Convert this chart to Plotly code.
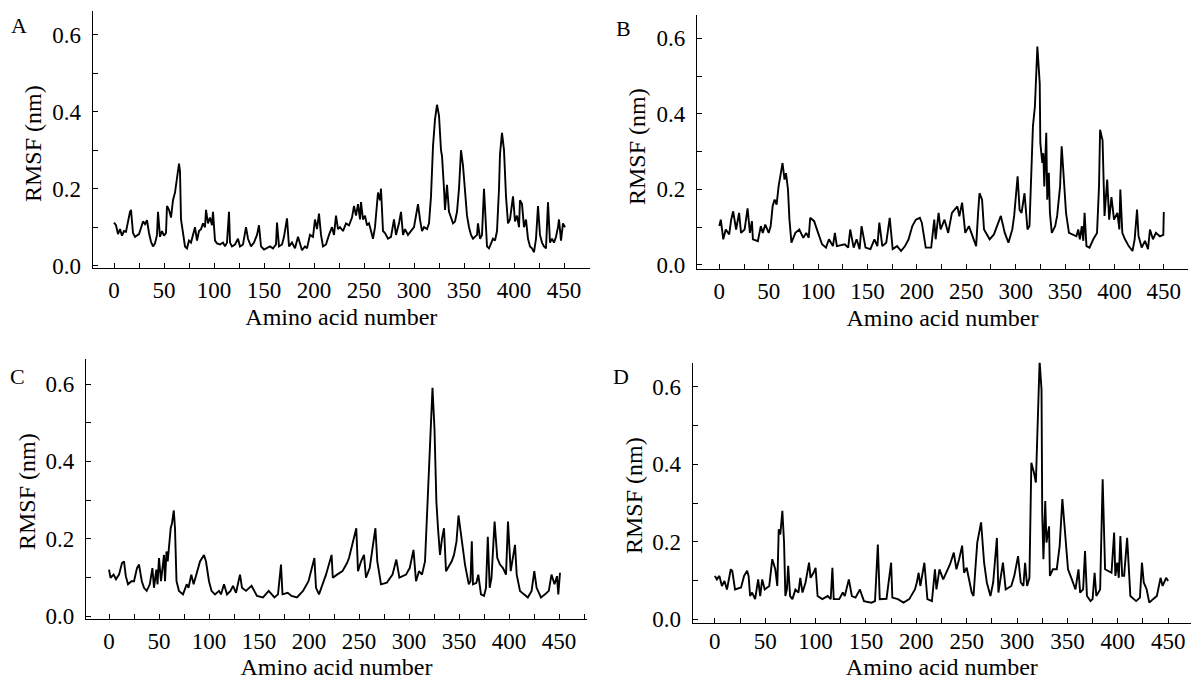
import plotly.graph_objects as go

# ---------------- data (residue number, RMSF nm) ----------------
res_A = [0,2,4,6,8,10,12,14,16,17,19,21,23,25,27,29,31,33,35,37,39,41,43,44,46,48,50,52,53,55,57,59,61,63,65,66,67,69,71,73,75,77,79,81,83,85,87,89,91,92,94,96,98,99,101,103,106,109,111,113,115,116,118,121,124,126,129,132,134,137,140,143,145,147,150,153,156,159,162,163,165,168,170,173,175,178,181,184,186,188,191,193,196,199,201,203,205,207,209,212,215,218,220,222,224,226,229,232,235,238,240,242,244,246,247,249,251,253,255,257,259,261,263,264,266,267,269,271,274,277,280,282,285,287,289,291,294,297,300,302,304,306,308,310,313,315,317,319,321,323,325,327,328,330,331,333,335,337,339,341,343,345,347,349,351,353,355,357,359,361,363,364,366,368,369,370,372,373,375,377,379,381,383,385,386,388,390,392,394,396,398,399,401,403,405,406,408,410,412,414,416,418,420,422,424,426,428,430,432,434,436,438,440,442,444,445,447,449,451]
rmsf_A = [0.112,0.105,0.082,0.095,0.078,0.09,0.088,0.118,0.14,0.145,0.085,0.075,0.078,0.082,0.098,0.115,0.108,0.118,0.085,0.062,0.05,0.058,0.08,0.14,0.075,0.09,0.078,0.085,0.155,0.145,0.125,0.17,0.19,0.225,0.265,0.245,0.12,0.085,0.05,0.045,0.065,0.06,0.08,0.1,0.065,0.09,0.095,0.11,0.1,0.145,0.11,0.125,0.105,0.14,0.065,0.058,0.055,0.06,0.05,0.06,0.14,0.06,0.05,0.055,0.07,0.05,0.055,0.1,0.07,0.05,0.06,0.08,0.105,0.05,0.042,0.045,0.05,0.045,0.055,0.112,0.05,0.055,0.075,0.123,0.05,0.06,0.045,0.075,0.06,0.04,0.05,0.045,0.08,0.075,0.12,0.095,0.135,0.08,0.05,0.055,0.08,0.1,0.08,0.13,0.095,0.1,0.09,0.11,0.105,0.125,0.155,0.13,0.16,0.12,0.165,0.12,0.13,0.105,0.11,0.09,0.07,0.1,0.17,0.19,0.17,0.2,0.09,0.085,0.07,0.075,0.12,0.08,0.11,0.14,0.08,0.095,0.08,0.09,0.1,0.13,0.16,0.12,0.09,0.1,0.095,0.11,0.18,0.31,0.38,0.418,0.39,0.3,0.285,0.2,0.145,0.21,0.14,0.125,0.11,0.115,0.14,0.2,0.3,0.26,0.2,0.13,0.1,0.08,0.07,0.075,0.08,0.11,0.07,0.08,0.15,0.2,0.1,0.05,0.045,0.06,0.07,0.065,0.09,0.2,0.29,0.345,0.3,0.18,0.11,0.12,0.16,0.18,0.115,0.13,0.1,0.17,0.16,0.1,0.12,0.07,0.05,0.045,0.035,0.07,0.155,0.08,0.06,0.05,0.045,0.165,0.06,0.07,0.06,0.075,0.1,0.12,0.065,0.11,0.1]

res_B = [0,1.5,4,6.5,10,12,14,17,20,22,25.6,28.6,31,33,34,39,42,44,46.5,50,52,54,56,58,60,62,64,66,67.5,69.5,71,73,77,81,85,88,90.5,92,96,100,104,108,111,115,117,119,127,130.5,132.5,136,139,142,144,148,153,157,160,162,165,169,172.5,175.5,180,184,188,191.6,195.4,199,203,205,209,214.5,217.6,219,222,224,228,231.7,235.5,241,243,245.8,249,252.7,256.5,260,262,263.4,266,268,273.7,278,285,289,292.7,296.6,298.5,302,304,306,309,312,314,315.6,317.5,319.5,320.6,322,324.4,325,327,328,329,331,332,333.6,334.7,336.6,340,342,345,346.6,348,351,354,358,361.5,363.4,365,367,368.5,369.8,371.7,374.8,378.6,382.4,384.4,385.5,388,390,392.7,394.7,397,399.6,403,405,406,408,410.7,414.5,418.3,420.5,422.9,424.4,427.6,431,434,436,439,442,446,449.5,450]
rmsf_B = [0.103,0.12,0.068,0.094,0.081,0.12,0.142,0.094,0.138,0.085,0.094,0.15,0.085,0.116,0.068,0.063,0.103,0.085,0.107,0.085,0.103,0.156,0.173,0.16,0.208,0.235,0.27,0.226,0.243,0.2,0.12,0.059,0.085,0.094,0.072,0.085,0.072,0.125,0.116,0.085,0.055,0.046,0.068,0.05,0.085,0.05,0.055,0.046,0.094,0.046,0.068,0.042,0.103,0.046,0.042,0.068,0.05,0.112,0.05,0.059,0.125,0.042,0.05,0.037,0.05,0.068,0.103,0.12,0.125,0.112,0.046,0.046,0.12,0.068,0.138,0.094,0.12,0.085,0.138,0.155,0.129,0.165,0.085,0.103,0.072,0.05,0.138,0.19,0.173,0.094,0.068,0.081,0.13,0.085,0.059,0.094,0.13,0.235,0.146,0.138,0.19,0.094,0.103,0.226,0.367,0.42,0.507,0.578,0.48,0.323,0.27,0.296,0.208,0.35,0.173,0.244,0.138,0.085,0.103,0.13,0.208,0.314,0.26,0.138,0.085,0.08,0.076,0.094,0.068,0.103,0.064,0.138,0.05,0.046,0.068,0.085,0.208,0.358,0.33,0.13,0.226,0.12,0.18,0.12,0.138,0.094,0.2,0.085,0.068,0.05,0.037,0.068,0.147,0.077,0.046,0.064,0.042,0.094,0.068,0.085,0.076,0.08,0.14]

res_C = [0,1.5,4.6,7,10,13,15,16.8,19,22.5,25,28,30,32.8,35,37.7,40.8,43.4,45,47.3,48.5,50,52,55,56,57.5,58.7,61.7,63,64.8,66,67.5,70,74,77.7,79.5,82.3,84.6,87.3,91,95,97,100,102.5,106,110,112,115,118,121.5,124,127,131,133,137,142.5,148,154,159.7,165.4,169,172,173.5,178.7,182.5,188,194,197.8,199.5,205.4,207,210,212.5,217,222.6,223.8,228,233.5,238,240,247.3,249,252,255,257,260.7,264.5,266.4,268.3,272,277.8,283.5,287.3,290.4,297,300.7,304.5,307,310,313,316,317.8,319.7,321.6,323.5,325.5,327.4,329,331,333,335,337,339,342.6,345,347.5,349.5,352,356,359.8,361.5,362.8,364,367.4,369.3,372,375,377,378.8,380.7,382.5,385.6,388.3,391,394,397,399,401.7,403.5,406,407.7,411,415,418.8,422.6,425.3,427.6,432,436,439.8,442.5,445.5,448,449.3,451]
rmsf_C = [0.12,0.099,0.107,0.095,0.107,0.137,0.141,0.103,0.082,0.09,0.09,0.124,0.133,0.09,0.073,0.065,0.082,0.124,0.073,0.12,0.082,0.15,0.09,0.158,0.09,0.167,0.141,0.227,0.24,0.273,0.227,0.09,0.065,0.056,0.082,0.073,0.107,0.082,0.107,0.141,0.158,0.141,0.09,0.065,0.056,0.065,0.056,0.082,0.056,0.065,0.078,0.06,0.107,0.073,0.065,0.078,0.052,0.048,0.065,0.048,0.056,0.133,0.056,0.06,0.052,0.048,0.065,0.082,0.09,0.15,0.073,0.056,0.073,0.107,0.158,0.099,0.107,0.116,0.137,0.15,0.227,0.116,0.141,0.158,0.099,0.124,0.193,0.227,0.141,0.082,0.086,0.107,0.146,0.099,0.107,0.124,0.171,0.09,0.116,0.107,0.141,0.26,0.37,0.483,0.59,0.483,0.295,0.227,0.158,0.2,0.227,0.116,0.124,0.141,0.158,0.193,0.26,0.209,0.133,0.082,0.09,0.193,0.082,0.086,0.107,0.056,0.052,0.073,0.205,0.073,0.099,0.244,0.15,0.133,0.124,0.107,0.244,0.116,0.141,0.184,0.107,0.065,0.056,0.048,0.065,0.116,0.073,0.048,0.056,0.065,0.107,0.082,0.103,0.056,0.112]

res_D = [0,2,4.5,7,9.5,12,15.8,17.3,20,26,29,32,33.5,35,37,40,43,45,47,49.5,54,57,60,62,63.4,65,67,68.7,70,71.5,72.8,74.7,77,80,83,84.8,87,90,93.5,95,98,100,102,106.6,112,115,116.7,118,123.5,127,129,133,136,139.6,144,148,155.4,159,161.8,163.7,170.4,175,176.2,181.7,187.3,193,198.6,200.5,202.3,204,208,211,215.5,218.5,220,223,226.7,233.5,237.2,239.8,242.5,245.5,247.4,250,255,256.8,258.6,260.5,264.3,267.3,270,273.6,276.3,280,281.5,286,288.7,294.3,297.3,301,303.7,306.3,308,310,312.3,314.2,316.8,318.7,319.8,321.3,322.4,324.3,325,326.2,328,329.2,331.8,332.6,335.6,339.4,342.3,345,346.8,350.6,354.4,358,361,362.6,365.6,367.5,369.4,373,375,377,378.7,382.5,385,387.4,393.8,396.4,397.6,399.5,401,402.6,404.4,406.3,409.3,412.5,418.2,422,424,425.8,428.7,431.3,435,438.8,442.5,444.5,448,450]
rmsf_D = [0.112,0.103,0.112,0.086,0.099,0.077,0.129,0.125,0.077,0.082,0.112,0.125,0.112,0.06,0.069,0.052,0.103,0.06,0.103,0.077,0.086,0.155,0.129,0.086,0.232,0.219,0.28,0.198,0.06,0.077,0.138,0.06,0.052,0.077,0.069,0.107,0.069,0.095,0.146,0.107,0.12,0.133,0.06,0.052,0.06,0.052,0.133,0.052,0.052,0.069,0.06,0.103,0.06,0.056,0.077,0.047,0.043,0.047,0.193,0.052,0.053,0.146,0.056,0.052,0.043,0.052,0.077,0.095,0.12,0.086,0.146,0.052,0.047,0.129,0.077,0.129,0.103,0.142,0.172,0.129,0.155,0.19,0.12,0.133,0.069,0.06,0.129,0.198,0.25,0.146,0.095,0.06,0.095,0.21,0.069,0.146,0.077,0.086,0.112,0.163,0.095,0.086,0.146,0.086,0.107,0.404,0.378,0.353,0.447,0.576,0.666,0.593,0.275,0.155,0.305,0.198,0.24,0.112,0.129,0.129,0.189,0.31,0.258,0.129,0.103,0.077,0.129,0.069,0.077,0.176,0.06,0.047,0.052,0.12,0.06,0.077,0.361,0.129,0.12,0.224,0.112,0.146,0.107,0.215,0.112,0.112,0.21,0.06,0.047,0.056,0.146,0.095,0.077,0.043,0.052,0.06,0.107,0.086,0.107,0.099]

panel_letters = ["A", "B", "C", "D"]
x_ticks = [0, 50, 100, 150, 200, 250, 300, 350, 400, 450]
y_ticks = [0.0, 0.2, 0.4, 0.6]
y_tick_text = ["0.0", "0.2", "0.4", "0.6"]
x_title = "Amino acid number"
y_title = "RMSF (nm)"

W, H = 1191, 680
FONT = "Liberation Serif"

# panel layout in pixels: (left, right, top, bottom), x-range, y-range, text positions
panels = [
    dict(res=res_A, val=rmsf_A, box=(92.7, 590, 11, 268.3), xr=(-21.3, 476), yr=(-0.0068, 0.6616),
         letter=(19, 26), ytitle=(33, 144), xlab_off=1),
    dict(res=res_B, val=rmsf_B, box=(697, 1188, 15, 269.3), xr=(-22.6, 474.5), yr=(-0.0114, 0.6617),
         letter=(623, 29), ytitle=(637, 147), xlab_off=1),
    dict(res=res_C, val=rmsf_C, box=(86, 587, 359.3, 619.3), xr=(-23, 478), yr=(-0.0085, 0.6639),
         letter=(17, 376), ytitle=(27, 492), xlab_off=1),
    dict(res=res_D, val=rmsf_D, box=(692.7, 1191, 362.7, 623.3), xr=(-22, 472.7), yr=(-0.0103, 0.662),
         letter=(621, 376), ytitle=(634, 496), xlab_off=-3),
]

fig = go.Figure()
annotations = []
for i, p in enumerate(panels):
    n = "" if i == 0 else str(i + 1)
    xa, ya = "x" + n, "y" + n
    fig.add_trace(go.Scatter(x=p["res"], y=p["val"], mode="lines",
                             line=dict(color="black", width=1.9),
                             xaxis=xa, yaxis=ya, showlegend=False, hoverinfo="skip"))
    l, r, t, b = p["box"]
    common = dict(showline=True, linecolor="black", linewidth=1.3, showgrid=False, zeroline=False,
                  ticks="inside", ticklen=5, tickwidth=1.2, tickcolor="black", automargin=False,
                  tickfont=dict(family=FONT, size=23, color="black"))
    fig.layout["xaxis" + n] = dict(common, domain=[l / W, r / W], range=list(p["xr"]),
                                   tickvals=x_ticks, anchor=ya, ticklabelstandoff=p["xlab_off"],
                                   title=dict(text=x_title, standoff=6,
                                              font=dict(family=FONT, size=24, color="black")),
                                   minor=dict(ticks="inside", ticklen=5, tickwidth=1.2, tickcolor="black",
                                              tick0=0, dtick=25, showgrid=False))
    fig.layout["yaxis" + n] = dict(common, domain=[1 - b / H, 1 - t / H], range=list(p["yr"]),
                                   tickvals=y_ticks, ticktext=y_tick_text, anchor=xa, ticklabelstandoff=6,
                                   minor=dict(ticks="inside", ticklen=5, tickwidth=1.2, tickcolor="black",
                                              tick0=0, dtick=0.1, showgrid=False))
    lx, ly = p["letter"]
    annotations.append(dict(text=panel_letters[i], x=lx / W, y=1 - ly / H, xref="paper", yref="paper",
                            showarrow=False, xanchor="center", yanchor="middle",
                            font=dict(family=FONT, size=22, color="black")))
    tx, ty = p["ytitle"]
    annotations.append(dict(text=y_title, x=tx / W, y=1 - ty / H, xref="paper", yref="paper",
                            showarrow=False, xanchor="center", yanchor="middle", textangle=-90,
                            font=dict(family=FONT, size=24, color="black")))

fig.update_layout(width=W, height=H, margin=dict(l=0, r=0, t=0, b=0, autoexpand=False),
                  paper_bgcolor="white", plot_bgcolor="white", annotations=annotations,
                  showlegend=False)
fig.write_html("out.html")
